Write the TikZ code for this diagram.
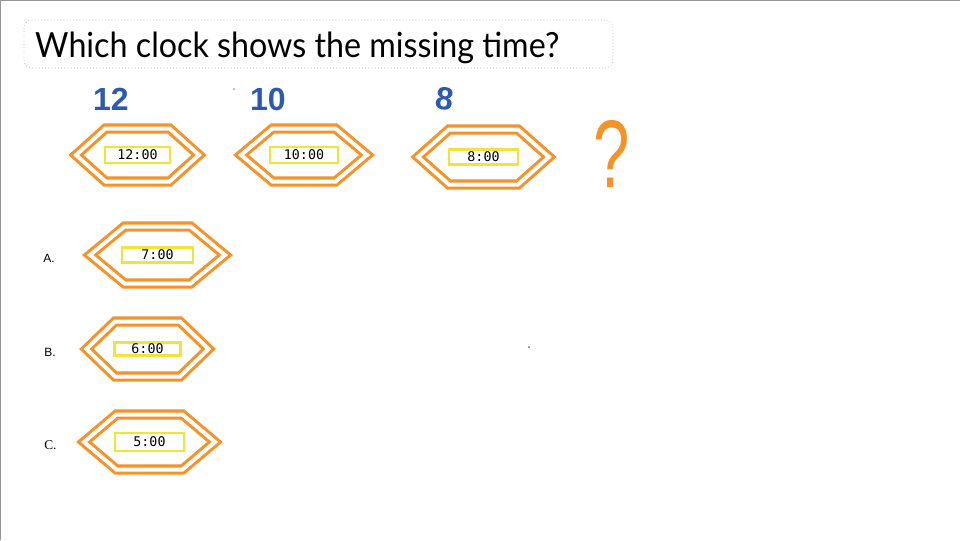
\documentclass[tikz,border=0pt]{standalone}
\usepackage{fontspec}
\setmainfont{Liberation Serif}
\newfontfamily\titlefont{Lato}
\newfontfamily\digitfont{DejaVu Sans Mono}
\newfontfamily\handfont{Liberation Sans}
\newfontfamily\labelfont{Liberation Sans}
\usetikzlibrary{calc}
\definecolor{clkorange}{RGB}{245,146,40}
\definecolor{clkyellow}{RGB}{240,228,60}
\definecolor{penblue}{RGB}{45,90,175}
\definecolor{edgegray}{RGB}{150,150,150}
\tikzset{
  hexline/.style={draw=clkorange, double=white, line width=2.3pt, double distance=3pt, line join=miter},
  timebox/.style={draw=clkyellow, line width=1.9pt, fill=white, inner sep=0pt, text=black,
    font=\digitfont\fontsize{10}{10}\selectfont},
  handnum/.style={text=penblue, inner sep=0pt, font=\handfont\bfseries\fontsize{24}{24}\selectfont},
  optlabel/.style={inner sep=0pt, anchor=west},
  titlebox/.style={draw=edgegray, dotted, rounded corners=6pt, inner sep=0pt},
}
% name, cx, cy, W, H, T, time, rect width, rect height
\newcommand\hexclock[9]{%
  \begin{scope}[shift={(#2,#3)}]
    \draw[hexline] (-#4,0) -- (-#6,-#5) -- (#6,-#5) -- (#4,0) -- (#6,#5) -- (-#6,#5) -- cycle;
  \end{scope}
  \node[timebox, minimum width=#8, minimum height=#9] (#1) at (#2,#3) {#7};}
\begin{document}
\begin{tikzpicture}[x=0.75pt,y=-0.75pt]
\useasboundingbox (0,0) rectangle (960,540);
\fill[white] (0,0) rectangle (960,540);
\draw[edgegray, line width=1.2pt] (0,540) -- (0,0) -- (960,0);

% title
\node[titlebox, minimum width=441.75pt, minimum height=36pt] (tbox) at (318.5,44) {};
\node[anchor=base west, inner sep=0pt, xscale=0.93, font=\titlefont\fontsize{26}{26}\selectfont] (title) at (35,57) {Which clock shows the missing time?};

% handwritten numbers
\node[handnum] (n12) at (111,99) {12};
\node[handnum] (n10) at (268,99) {10};
\node[handnum, rotate=-8] (n8) at (445,99) {8};
\fill[gray!50] (234,89) circle (1.3);
\fill[gray!80!black] (529,347) circle (1);

% sequence clocks
\hexclock{c1}{137.5}{155}{61.5}{26.5}{32}{12:00}{48.75pt}{12pt}
\hexclock{c2}{304}{155}{63}{26.5}{31.5}{10:00}{51pt}{12pt}
\hexclock{c3}{483.5}{157}{65.5}{27.5}{34.5}{8:00}{51.75pt}{11.25pt}
\node[text=clkorange, inner sep=0pt, font=\handfont\fontsize{72}{72}\selectfont, xscale=0.68] (qm) at (612,154) {?};

% options
\node[optlabel, font=\labelfont\fontsize{9}{9}\selectfont] (la) at (43,258) {A.};
\hexclock{cA}{157.5}{255}{67.5}{28.5}{33}{7:00}{53.25pt}{11.25pt}
\node[optlabel, font=\labelfont\fontsize{9}{9}\selectfont] (lb) at (44,352) {B.};
\hexclock{cB}{147.5}{349}{61}{27.5}{32.5}{6:00}{49.5pt}{9.75pt}
\node[optlabel, font=\fontsize{10}{10}\selectfont] (lc) at (44,445) {C.};
\hexclock{cC}{149.5}{442}{65.5}{27.5}{33}{5:00}{51.75pt}{13.5pt}
\end{tikzpicture}
\end{document}
